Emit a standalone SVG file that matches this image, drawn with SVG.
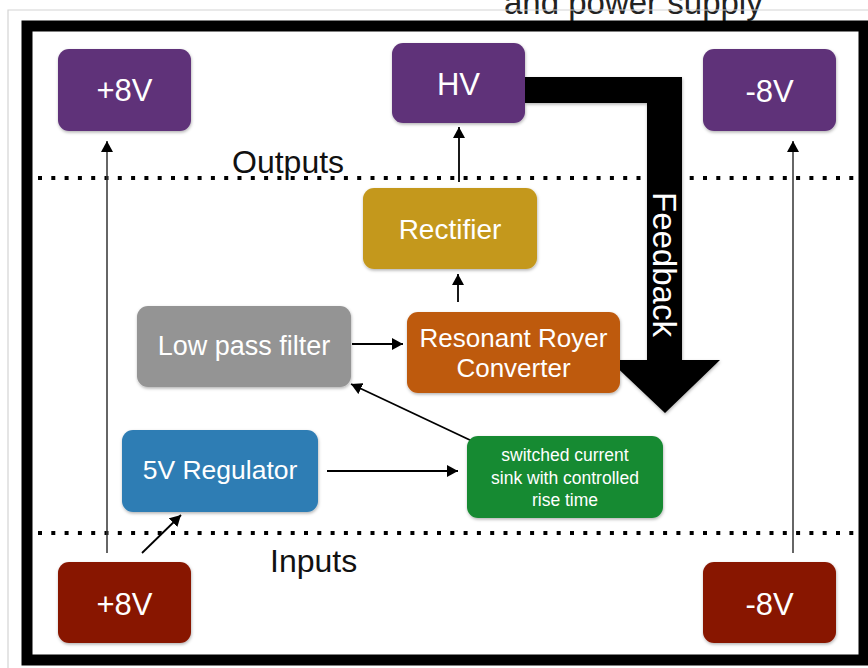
<svg xmlns="http://www.w3.org/2000/svg" width="868" height="668" viewBox="0 0 868 668">
<style>
.box{stroke:none;filter:url(#sh)}
.t{font-family:"Liberation Sans",Arial,sans-serif;fill:#fff;text-anchor:middle}
.lbl{font-family:"Liberation Sans",Arial,sans-serif;fill:#111}
.c{stroke:#000;stroke-width:1.8;fill:none;marker-end:url(#ah)}
.cv{stroke:#333;stroke-width:1.5;fill:none;marker-end:url(#ah)}
.dot{stroke:#000;stroke-width:4;stroke-dasharray:4 9.3;fill:none}
.purple{fill:#5F3379}
.red{fill:#881500}
</style>
<defs>
<marker id="ah" markerUnits="userSpaceOnUse" markerWidth="12" markerHeight="12" refX="11" refY="6" orient="auto">
<path d="M0,0 L11,6 L0,12 z" fill="#000"/>
</marker>
<filter id="sh" x="-10%" y="-10%" width="125%" height="130%">
<feDropShadow dx="0.5" dy="1.5" stdDeviation="1.5" flood-color="#000" flood-opacity="0.3"/>
</filter>
</defs>
<rect x="0" y="0" width="868" height="668" fill="#fff"/>
<text class="lbl" x="504" y="14" font-size="33" style="fill:#222">and power supply</text>
<path d="M8,668 V10 H868" fill="none" stroke="#d4d4d4" stroke-width="1.2"/>
<rect x="27" y="26" width="837" height="634" fill="#fff" stroke="#000" stroke-width="11"/>

<g id="dividers">
<line class="dot" x1="38" y1="178" x2="860" y2="178"/>
<line class="dot" x1="38" y1="533" x2="860" y2="533"/>
<text class="lbl" x="232" y="173" font-size="32">Outputs</text>
<text class="lbl" x="270" y="572" font-size="32">Inputs</text>
</g>

<g id="connectors">
<line class="cv" x1="107" y1="553" x2="107" y2="141"/>
<line class="cv" x1="793" y1="553" x2="793" y2="141"/>
<line class="c" x1="142" y1="553" x2="181" y2="515"/>
<line class="c" x1="327" y1="471" x2="458" y2="471"/>
<line class="c" x1="472" y1="441" x2="351" y2="384"/>
<line class="c" x1="352" y1="344" x2="403" y2="344"/>
<line class="c" x1="458" y1="302" x2="458" y2="274"/>
<line class="c" x1="459" y1="182" x2="459" y2="127"/>
</g>

<g id="feedback">
<polygon points="525,77 682,77 682,360 720,360 665,413 609,360 647,360 647,103 525,103" fill="#000" filter="url(#sh)"/>
<text class="lbl" transform="translate(653,192) rotate(90)" x="0" y="0" font-size="33" style="fill:#fff">Feedback</text>
</g>

<g id="out-p8">
<rect class="box purple" x="58" y="49" width="133" height="82" rx="11"/>
<text class="t" x="124.5" y="101" font-size="31">+8V</text>
</g>
<g id="out-hv">
<rect class="box purple" x="392" y="43" width="133" height="80" rx="11"/>
<text class="t" x="458.5" y="95" font-size="31">HV</text>
</g>
<g id="out-m8">
<rect class="box purple" x="703" y="49" width="133" height="82" rx="11"/>
<text class="t" x="769.5" y="102" font-size="31">-8V</text>
</g>
<g id="rectifier">
<rect class="box" x="363" y="188" width="174" height="81" rx="11" fill="#C4981E"/>
<text class="t" x="450" y="239" font-size="28">Rectifier</text>
</g>
<g id="royer">
<rect class="box" x="407" y="312" width="213" height="81" rx="11" fill="#BE5A10"/>
<text class="t" x="513.5" y="347" font-size="26">Resonant Royer</text>
<text class="t" x="513.5" y="377" font-size="26">Converter</text>
</g>
<g id="lpf">
<rect class="box" x="137" y="306" width="214" height="81" rx="11" fill="#949494"/>
<text class="t" x="244" y="355" font-size="27">Low pass filter</text>
</g>
<g id="reg5v">
<rect class="box" x="122" y="430" width="196" height="82" rx="11" fill="#2F7DB4"/>
<text class="t" x="220" y="479" font-size="26.5">5V Regulator</text>
</g>
<g id="sink">
<rect class="box" x="467" y="436" width="196" height="82" rx="11" fill="#198A33"/>
<text class="t" x="565" y="461" font-size="17.5">switched current</text>
<text class="t" x="565" y="484" font-size="17.5">sink with controlled</text>
<text class="t" x="565" y="506" font-size="17.5">rise time</text>
</g>
<g id="in-p8">
<rect class="box red" x="58" y="562" width="133" height="81" rx="11"/>
<text class="t" x="124.5" y="615" font-size="31">+8V</text>
</g>
<g id="in-m8">
<rect class="box red" x="703" y="562" width="133" height="81" rx="11"/>
<text class="t" x="769.5" y="615" font-size="31">-8V</text>
</g>
</svg>
